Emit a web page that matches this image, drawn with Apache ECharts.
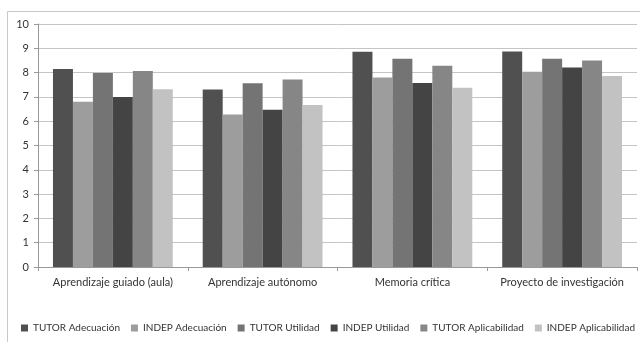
<!DOCTYPE html>
<html>
<head>
<meta charset="utf-8">
<script src="https://cdn.jsdelivr.net/npm/echarts@6/dist/echarts.min.js"></script>
<style>
html,body{margin:0;padding:0;background:#fff;}
#chart{width:640px;height:342px;}
</style>
</head>
<body>
<div id="chart"></div>
<script>
const categories = ['Aprendizaje guiado (aula)', 'Aprendizaje autónomo', 'Memoria crítica', 'Proyecto de investigación'];
const seriesNames = ['TUTOR Adecuación', 'INDEP Adecuación', 'TUTOR Utilidad', 'INDEP Utilidad', 'TUTOR Aplicabilidad', 'INDEP Aplicabilidad'];
const tutorAdecuacion = [8.15, 7.30, 8.86, 8.87];
const indepAdecuacion = [6.80, 6.28, 7.80, 8.04];
const tutorUtilidad = [7.98, 7.56, 8.57, 8.57];
const indepUtilidad = [7.00, 6.47, 7.57, 8.21];
const tutorAplicabilidad = [8.07, 7.72, 8.28, 8.50];
const indepAplicabilidad = [7.31, 6.67, 7.38, 7.86];
const yTicks = [0, 1, 2, 3, 4, 5, 6, 7, 8, 9, 10];

const seriesValues = [tutorAdecuacion, indepAdecuacion, tutorUtilidad, indepUtilidad, tutorAplicabilidad, indepAplicabilidad];
const colors = ['#505050', '#9d9d9d', '#747474', '#444444', '#868686', '#c2c2c2'];
const font = 'Lato, "Open Sans", sans-serif';

const chart = echarts.init(document.getElementById('chart'), null, { renderer: 'canvas' });
chart.setOption({
  animation: false,
  color: colors,
  graphic: [{
    type: 'rect',
    shape: { x: 7.5, y: 11.5, width: 640, height: 340 },
    style: { fill: 'none', stroke: '#c8c8c8', lineWidth: 1 },
    silent: true
  }],
  grid: { left: 38, right: 3, top: 24, bottom: 75, containLabel: false },
  legend: {
    left: 21,
    top: 323,
    width: 900,
    padding: 0,
    itemWidth: 7,
    itemHeight: 7,
    itemGap: 11,
    icon: 'rect',
    textStyle: { fontFamily: font, fontSize: 10, color: '#333' },
    data: seriesNames
  },
  xAxis: {
    type: 'category',
    data: categories,
    axisLine: { lineStyle: { color: '#999' } },
    axisTick: { show: true, length: 4, lineStyle: { color: '#999' } },
    axisLabel: { interval: 0, fontFamily: font, fontSize: 11, color: '#333', margin: 10 }
  },
  yAxis: {
    type: 'value',
    min: yTicks[0],
    max: yTicks[yTicks.length - 1],
    interval: 1,
    axisLine: { show: true, lineStyle: { color: '#999' } },
    axisTick: { show: true, length: 4, lineStyle: { color: '#999' } },
    splitLine: { lineStyle: { color: '#c4c4c4' } },
    axisLabel: { fontFamily: font, fontSize: 11, color: '#333', margin: 9 }
  },
  series: seriesNames.map((name, i) => ({
    name: name,
    type: 'bar',
    data: seriesValues[i],
    barGap: '0%',
    barCategoryGap: '20%'
  }))
});
</script>
</body>
</html>
